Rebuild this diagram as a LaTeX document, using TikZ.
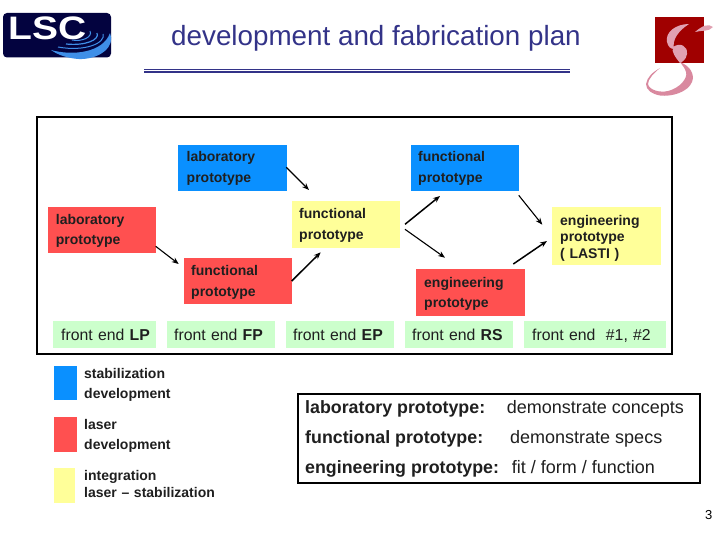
\documentclass[tikz,border=0pt]{standalone}
\usepackage{fontspec}
\setmainfont{Liberation Sans}
\usetikzlibrary{arrows.meta,calc}
\definecolor{tblue}{HTML}{333388}
\definecolor{bblue}{HTML}{0A90FF}
\definecolor{bred}{HTML}{FF5050}
\definecolor{byel}{HTML}{FFFF99}
\definecolor{bgrn}{HTML}{CCFFCC}
\definecolor{lnavy}{HTML}{03033F}
\definecolor{llblue}{HTML}{3F8FE8}
\definecolor{sred}{HTML}{A00000}
\definecolor{spink}{HTML}{D9899F}
\tikzset{
  pbox/.style n args={4}{anchor=north west,inner sep=0pt,inner xsep=#3,minimum width=#1,minimum height=#2,
    text width=#1-2*#3,text height=#4,text depth=#2-#4,align=left},
  lab/.style={text=black!88,font=\bfseries\fontsize{14}{20.5}\selectfont},
  fe/.style={fill=bgrn,text=black!88,font=\fontsize{15.8}{18}\selectfont},
  frame/.style={draw=black,line width=2pt,anchor=north west,inner sep=0pt,outer sep=0pt},
  swatch/.style={anchor=north west,inner sep=0pt},
  leg/.style={anchor=base west,inner sep=0pt,text width=140pt,align=left,text=black!88,font=\bfseries\fontsize{14}{20}\selectfont},
  big/.style={anchor=base west,inner sep=0pt,text=black!88,font=\fontsize{18}{20}\selectfont},
  bigb/.style={big,font=\bfseries\fontsize{17.8}{20}\selectfont},
  arr/.style={-{Stealth[length=7pt,width=5.5pt]},line width=1.1pt,black},
  arrb/.style={arr,line width=1.5pt},
}
\begin{document}
\begin{tikzpicture}[x=1pt,y=-1pt]
\useasboundingbox (0,0) rectangle (720,540);
% LSC logo
\fill[lnavy,rounded corners=4pt] (3,13) rectangle (111,57.5);
\node[anchor=base west,inner sep=0pt,text=white,font=\bfseries\fontsize{32.5}{34}\selectfont,xscale=1.2,transform shape] (lsc) at (8,40) {LSC};
\fill[llblue] (110,33) .. controls (116,46) and (100,60) .. (78,59) .. controls (67,58) and (58,55) .. (51,50) .. controls (72,56) and (103,53) .. (110,33) -- cycle;
\draw[llblue,line width=1pt] (103,34) .. controls (106,43) and (85,52) .. (58,47);
\draw[llblue,line width=1.2pt] (97,33) .. controls (100,40) and (85,46) .. (66,44);
\draw[llblue,line width=1pt] (90,31) .. controls (93,37) and (82,42) .. (72,40);
% seal logo
\fill[sred] (655,16.7) rectangle (704.3,63.3);
\fill[spink!80!white] (713,27) .. controls (708,23) and (702,26) .. (695,32) .. controls (702,30) and (709,32) .. (713,27) -- cycle;
\fill[spink!80!white] (689,24) .. controls (676,24) and (665,32) .. (667,42) .. controls (668,47) and (671,49) .. (674,49) .. controls (672,40) and (678,31) .. (689,24) -- cycle;
\fill[spink!80!white] (673,47) .. controls (680,42) and (688,46) .. (687,54) .. controls (686,60) and (682,62) .. (680,63) .. controls (676,58) and (671,52) .. (673,47) -- cycle;
\fill[spink] (680,62) .. controls (690,66) and (695,74) .. (692,82) .. controls (688,92) and (672,97) .. (660,95.5) .. controls (652,94) and (646,90) .. (646,84) .. controls (647,77) and (653,72) .. (660,68) .. controls (654,73) and (648,79) .. (648,84) .. controls (649,90) and (660,93) .. (668,91) .. controls (680,88) and (688,78) .. (686,72) .. controls (685,68) and (682,65) .. (680,62) -- cycle;
% title
\node[anchor=base west,inner sep=0pt,text=tblue,font=\fontsize{27.8}{30}\selectfont] (title) at (171,45.5) {development and fabrication plan};
\coordinate (ruleL) at (144,69.5);
\coordinate (ruleR) at (569.5,69.5);
\draw[tblue,line width=0.9pt] (ruleL) -- (ruleR);
\draw[tblue,line width=2.1pt] ($(ruleL)+(0,2.8)$) -- ($(ruleR)+(0,2.8)$);
% main frame
\node[frame,minimum width=635pt,minimum height=237.6pt] (main) at (36.7,116.7) {};
% boxes
\node[pbox={109pt}{45.7pt}{8.5pt}{16.7pt},fill=bblue,lab] (blab) at (178,145) {laboratory\\prototype};
\node[pbox={108pt}{45.7pt}{7.7pt}{17pt},fill=bred,lab] (rlab) at (48,207) {laboratory\\prototype};
\node[pbox={108.3pt}{47pt}{7.3pt}{18pt},fill=byel,lab] (yfun) at (291.7,200.7) {functional\\prototype};
\node[pbox={108pt}{45.7pt}{7pt}{17.7pt},fill=bred,lab] (rfun) at (184,258) {functional\\prototype};
\node[pbox={108pt}{45.7pt}{7pt}{16.7pt},fill=bblue,lab] (bfun) at (411,145) {functional\\prototype};
\node[pbox={109.3pt}{58pt}{8.3pt}{18pt},fill=byel,text=black!88,font=\bfseries\fontsize{14}{16.5}\selectfont] (yeng) at (551.7,207) {engineering\\prototype\\( LASTI )};
\node[pbox={109pt}{47pt}{8pt}{18.3pt},fill=bred,lab] (reng) at (416,268.7) {engineering\\prototype};
% front ends
\node[pbox={103pt}{27.3pt}{8pt}{19.3pt},fe] (fLP) at (53,320.7) {\mbox{front end \textbf{LP}}};
\node[pbox={108pt}{27.3pt}{7pt}{19.3pt},fe] (fFP) at (167,320.7) {\mbox{front end \textbf{FP}}};
\node[pbox={108pt}{27.3pt}{7pt}{19.3pt},fe] (fEP) at (286,320.7) {\mbox{front end \textbf{EP}}};
\node[pbox={108pt}{27.3pt}{7pt}{19.3pt},fe] (fRS) at (405,320.7) {\mbox{front end \textbf{RS}}};
\node[pbox={141.7pt}{27.3pt}{8pt}{19.3pt},fe] (fNN) at (524,320.7) {\mbox{front end\ \ \#1, \#2}};
% arrows
\draw[arr] ($(blab.north west)+(108.3,22.3)$) -- ($(yfun.north west)+(17.3,-10.7)$);
\draw[arr] ($(rlab.north west)+(107.7,39.3)$) -- ($(rfun.north west)+(-5.3,6)$);
\draw[arrb] ($(rfun.north west)+(107.7,23)$) -- ($(yfun.north west)+(29,51.6)$);
\draw[arrb] ($(yfun.north west)+(113.3,23.6)$) -- ($(bfun.north west)+(29,51)$);
\draw[arr] ($(yfun.north west)+(113.3,28.6)$) -- ($(reng.north west)+(29,-11)$);
\draw[arr] ($(bfun.north west)+(107.7,50.3)$) -- ($(yeng.north west)+(-9.4,17.7)$);
\draw[arrb] ($(reng.north west)+(97.3,-4.7)$) -- ($(yeng.north west)+(-4.7,34)$);
% legend
\node[swatch,fill=bblue,minimum width=23pt,minimum height=34pt] (kb) at (54,366) {};
\node[swatch,fill=bred,minimum width=23pt,minimum height=35.3pt] (kr) at (54,416.7) {};
\node[swatch,fill=byel,minimum width=20.3pt,minimum height=35.3pt] (ky) at (54,467.7) {};
\node[leg] (lb) at (84,378) {stabilization\\development};
\node[leg] (lr) at (84,429) {laser\\development};
\node[leg,font=\bfseries\fontsize{14}{17}\selectfont] (ly) at (84,480) {integration\\laser – stabilization};
% definitions
\node[frame,minimum width=402.6pt,minimum height=89pt] (defs) at (297.7,394.3) {};
\node[bigb] (d1) at (305,413) {laboratory prototype:};
\node[big] (e1) at (506.7,413) {demonstrate concepts};
\node[bigb] (d2) at (305,443) {functional prototype:};
\node[big] (e2) at (510,443) {demonstrate specs};
\node[bigb] (d3) at (305,473) {engineering prototype:};
\node[big] (e3) at (511.7,473) {fit / form / function};
% page number
\node[anchor=base west,inner sep=0pt,font=\fontsize{13}{14}\selectfont] (pg) at (705,519.5) {3};
\end{tikzpicture}
\end{document}
